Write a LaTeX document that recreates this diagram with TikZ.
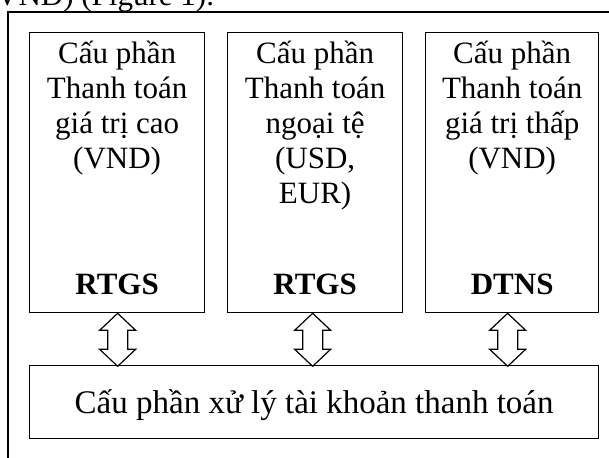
\documentclass[tikz,border=0pt]{standalone}
\usepackage{fontspec}
\setmainfont{Liberation Serif}
\usetikzlibrary{calc}
\begin{document}
\begin{tikzpicture}[x=1pt,y=-1pt,
  frame/.style={draw=black,line width=1.3pt},
  box/.style={frame,fill=white,inner sep=0pt,anchor=north west},
  txt/.style={font=\fontsize{31}{35}\selectfont,align=center,inner sep=0pt},
  bold/.style={txt,font=\fontsize{31}{35}\selectfont\bfseries},
  link/.style={draw=black,line width=1.2pt,fill=white,line join=miter}
]
\useasboundingbox (0,0) rectangle (609,457);
\clip (0,0) rectangle (609,457);

% tail of the preceding sentence
\node[txt,anchor=base west] (prev) at (-4,6) {VND) (Figure 1).};

% outer frame, open to the right and below
\coordinate (fr) at (620,12);
\coordinate (fb) at (8,470);
\draw[frame] (fr) -- (8,12) -- (fb);

% three payment components
\node[box,minimum width=175pt,minimum height=280pt] (b1) at (29,32) {};
\node[box,minimum width=175pt,minimum height=280pt] (b2) at (227,32) {};
\node[box,minimum width=173pt,minimum height=280pt] (b3) at (425,32) {};

\node[txt,anchor=north] (t1) at ([yshift=-9]b1.north) {Cấu phần\\Thanh toán\\giá trị cao\\(VND)};
\node[txt,anchor=north] (t2) at ([yshift=-9]b2.north) {Cấu phần\\Thanh toán\\ngoại tệ\\(USD,\\EUR)};
\node[txt,anchor=north] (t3) at ([yshift=-9]b3.north) {Cấu phần\\Thanh toán\\giá trị thấp\\(VND)};

\node[bold,anchor=base] (r1) at ([yshift=19]b1.south) {RTGS};
\node[bold,anchor=base] (r2) at ([yshift=19]b2.south) {RTGS};
\node[bold,anchor=base] (r3) at ([yshift=19]b3.south) {DTNS};

% account processing component
\node[box,minimum width=569pt,minimum height=73pt] (acc) at (29,365) {};
\node[txt,font=\fontsize{33}{35}\selectfont] (ta) at ([yshift=-3]acc.center) {Cấu phần xử lý tài khoản thanh toán};

% two-way links between the components
\foreach \b/\dx in {b1/0.5,b2/-2.5,b3/-4.5}{
  \draw[link] ([xshift=\dx]\b.south) -- ++(18,17) -- ++(-8,0) -- ++(0,19)
    -- ++(8,0) -- ++(-18,17) -- ++(-18,-17) -- ++(8,0) -- ++(0,-19)
    -- ++(-8,0) -- cycle;
}
\end{tikzpicture}
\end{document}
